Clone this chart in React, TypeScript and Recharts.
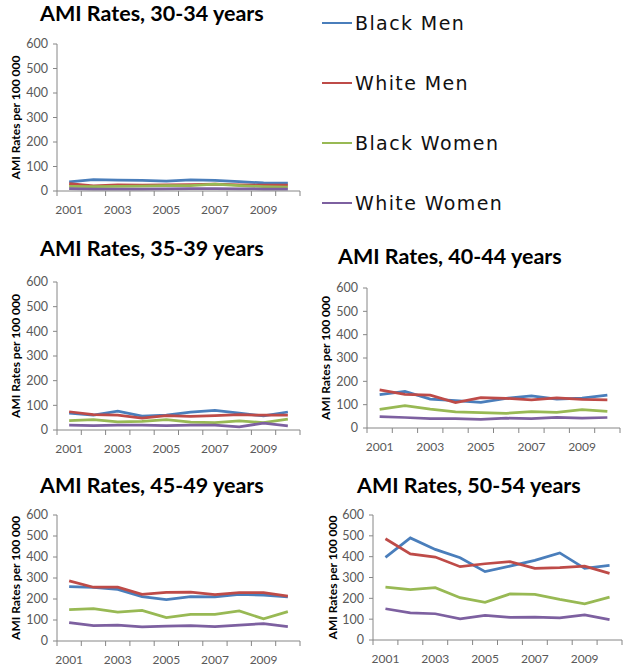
import React from "react";
import { LineChart, Line, XAxis, YAxis, Legend } from "recharts";

// years on the x axis, and which of them get a label
const years = [2001, 2002, 2003, 2004, 2005, 2006, 2007, 2008, 2009, 2010];
const labelYears = [2001, 2003, 2005, 2007, 2009];
const yTicks = [0, 100, 200, 300, 400, 500, 600];

const seriesNames = ["Black Men", "White Men", "Black Women", "White Women"];
const seriesKeys = ["bm", "wm", "bw", "ww"];
const seriesColors = ["#4A7EBB", "#BE4B48", "#98B954", "#7D60A0"];

// AMI rates per 100 000
const bm3034 = [37, 46, 44, 43, 40, 45, 43, 38, 33, 32];
const wm3034 = [30, 21, 25, 24, 25, 26, 28, 25, 24, 24];
const bw3034 = [19, 18, 19, 20, 22, 22, 28, 22, 18, 16];
const ww3034 = [10, 8, 8, 8, 9, 10, 10, 9, 8, 8];

const bm3539 = [68, 60, 76, 56, 60, 72, 80, 68, 57, 73];
const wm3539 = [74, 62, 60, 48, 58, 55, 58, 62, 60, 60];
const bw3539 = [38, 42, 33, 35, 42, 32, 30, 37, 30, 44];
const ww3539 = [20, 18, 20, 20, 18, 20, 20, 13, 28, 17];

const bm4044 = [143, 157, 124, 117, 110, 127, 138, 124, 128, 141];
const wm4044 = [163, 144, 141, 109, 130, 127, 121, 129, 123, 121];
const bw4044 = [80, 96, 81, 69, 66, 63, 70, 67, 79, 71];
const ww4044 = [49, 45, 40, 40, 37, 42, 40, 45, 42, 45];

const bm4549 = [259, 255, 246, 211, 197, 211, 210, 222, 219, 210];
const wm4549 = [286, 256, 256, 222, 232, 233, 221, 230, 230, 214];
const bw4549 = [149, 154, 137, 146, 111, 127, 127, 143, 106, 140];
const ww4549 = [87, 73, 75, 67, 71, 73, 68, 76, 83, 68];

const bm5054 = [397, 490, 435, 395, 328, 355, 382, 418, 344, 358];
const wm5054 = [486, 413, 398, 352, 366, 376, 344, 347, 354, 320];
const bw5054 = [254, 242, 251, 203, 181, 221, 219, 195, 174, 206];
const ww5054 = [150, 130, 126, 102, 118, 109, 110, 106, 120, 98];

const AXIS = "#868686";
const TICK = "#595959";

const makeRows = (bm: number[], wm: number[], bw: number[], ww: number[]) =>
  years.map((year, i) => ({ year, bm: bm[i], wm: wm[i], bw: bw[i], ww: ww[i] }));

const panels = [
  { title: "AMI Rates, 30-34 years", rows: makeRows(bm3034, wm3034, bw3034, ww3034),
    left: 0, top: 0, width: 629, height: 230, plotLeft: 57, plotTop: 44, plotRight: 300, plotBottom: 191,
    titleX: 40, titleBase: 22, yLabelX: 15, legend: true },
  { title: "AMI Rates, 35-39 years", rows: makeRows(bm3539, wm3539, bw3539, ww3539),
    left: 0, top: 235, width: 310, height: 235, plotLeft: 57, plotTop: 282, plotRight: 300, plotBottom: 430,
    titleX: 40, titleBase: 257, yLabelX: 15 },
  { title: "AMI Rates, 40-44 years", rows: makeRows(bm4044, wm4044, bw4044, ww4044),
    left: 310, top: 235, width: 319, height: 235, plotLeft: 367, plotTop: 288, plotRight: 620, plotBottom: 428,
    titleX: 338, titleBase: 265, yLabelX: 15 },
  { title: "AMI Rates, 45-49 years", rows: makeRows(bm4549, wm4549, bw4549, ww4549),
    left: 0, top: 470, width: 310, height: 199, plotLeft: 57, plotTop: 515, plotRight: 300, plotBottom: 641,
    titleX: 40, titleBase: 494, yLabelX: 15 },
  { title: "AMI Rates, 50-54 years", rows: makeRows(bm5054, wm5054, bw5054, ww5054),
    left: 310, top: 470, width: 319, height: 199, plotLeft: 373, plotTop: 515, plotRight: 622, plotBottom: 640,
    titleX: 357, titleBase: 494, yLabelX: 22 },
];

// boundaries between years carry tick marks, odd years carry labels
const xTicks = [...years.map((y) => y - 0.5), years[years.length - 1] + 0.5, ...labelYears];

const XTick = (props: any) => {
  const { x, y, payload } = props;
  const v = payload.value;
  if (!Number.isInteger(v)) return <line x1={x} x2={x} y1={y} y2={y + 5} stroke={AXIS} />;
  return (
    <text x={x} y={y + 18} textAnchor="middle" dominantBaseline="central"
      style={{ fontFamily: "Lato", fontSize: 12, fill: TICK }}>{v}</text>
  );
};

// keep the series order (recharts would sort the payload by name)
const LegendBox = () => (
  <div>
    {seriesNames.map((n, i) => (
      <div key={n} style={{ height: 60, display: "flex", alignItems: "center" }}>
        <div style={{ width: 30, height: 2, background: seriesColors[i], marginRight: 3 }} />
        <span style={{ fontFamily: "DejaVu Sans", fontSize: 19, letterSpacing: 1.4, color: "#111" }}>{n}</span>
      </div>
    ))}
  </div>
);

function Panel({ p }: any) {
  const xH = 24;
  const margin = {
    top: p.plotTop - p.top,
    right: p.left + p.width - p.plotRight,
    left: 0,
    bottom: p.top + p.height - p.plotBottom - xH,
  };
  return (
    <div style={{ position: "absolute", left: p.left, top: p.top }}>
      <LineChart width={p.width} height={p.height} data={p.rows} margin={margin}>
        <XAxis type="number" dataKey="year" domain={[years[0] - 0.5, years[years.length - 1] + 0.5]}
          ticks={xTicks} interval={0} tick={<XTick />} tickLine={false} tickSize={0} tickMargin={0}
          height={xH} stroke={AXIS} />
        <YAxis type="number" domain={[0, 600]} ticks={yTicks} interval={0} width={p.plotLeft - p.left}
          tickSize={4} tickMargin={5} stroke={AXIS}
          tick={{ fontFamily: "Lato", fontSize: 12.5, fill: TICK }}
          label={{
            value: "AMI Rates per 100 000",
            content: ({ viewBox }: any) => {
              const cx = viewBox.x + p.yLabelX;
              const cy = viewBox.y + viewBox.height / 2;
              return (
                <text x={cx} y={cy} transform={`rotate(-90, ${cx}, ${cy})`} textAnchor="middle"
                  dominantBaseline="central" style={{ fontFamily: "Lato", fontWeight: 700, fontSize: 12, fill: "#000" }}>
                  AMI Rates per 100 000
                </text>
              );
            },
          }} />
        {seriesKeys.map((k, i) => (
          <Line key={k} type="linear" dataKey={k} name={seriesNames[i]} stroke={seriesColors[i]}
            strokeWidth={2.75} dot={false} activeDot={false} isAnimationActive={false} />
        ))}
        {p.legend && (
          <Legend layout="vertical" verticalAlign="middle" align="center"
            wrapperStyle={{ left: 322, top: -7, width: 300 }} content={<LegendBox />} />
        )}
      </LineChart>
      <div style={{
        position: "absolute", left: p.titleX - p.left, top: p.titleBase - p.top - 19, whiteSpace: "nowrap",
        fontFamily: "Lato", fontWeight: 700, fontSize: 21.5, lineHeight: "21.5px", color: "#000",
      }}>{p.title}</div>
    </div>
  );
}

export default function App() {
  return (
    <div style={{ position: "absolute", left: 0, top: 0, width: 629, height: 669, background: "#fff", overflow: "hidden" }}>
      {panels.map((p) => <Panel key={p.title} p={p} />)}
    </div>
  );
}
